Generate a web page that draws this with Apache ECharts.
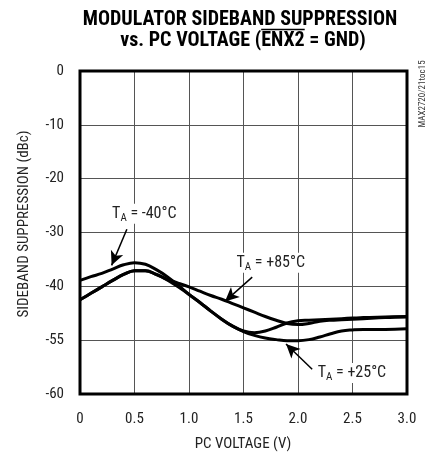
<!DOCTYPE html>
<html>
<head>
<meta charset="utf-8">
<script src="https://cdn.jsdelivr.net/npm/echarts@6/dist/echarts.min.js"></script>
<style>
  html, body { margin: 0; padding: 0; background: #fff; }
  #chart { width: 428px; height: 456px; }
</style>
</head>
<body>
<div id="chart"></div>
<script>
// PC voltage sample points (V)
const pcVoltage = [0, 0.1, 0.2, 0.3, 0.4, 0.5, 0.6, 0.7, 0.8, 0.9, 1.0, 1.1, 1.2, 1.3, 1.4,
  1.5, 1.6, 1.7, 1.8, 1.9, 2.0, 2.1, 2.2, 2.3, 2.4, 2.5, 2.6, 2.8, 3.0];

// Sideband suppression (dBc) at each temperature
const suppressionM40 = [-38.9, -38.2, -37.6, -36.8, -36.0, -35.6, -35.9, -36.9, -38.2, -39.8, -41.5,
  -43.0, -44.6, -46.1, -47.4, -48.3, -48.6, -48.3, -47.6, -46.8, -46.4, -46.3, -46.2, -46.1,
  -46.0, -45.9, -45.8, -45.7, -45.6];
const suppressionP25 = [-42.5, -41.3, -40.1, -38.9, -37.8, -37.1, -37.1, -37.8, -38.8, -40.1, -41.5,
  -43.0, -44.6, -46.1, -47.4, -48.4, -49.1, -49.6, -49.9, -50.1, -50.1, -49.9, -49.4, -48.8,
  -48.3, -48.1, -48.0, -48.0, -47.9];
const suppressionP85 = [-42.5, -41.3, -40.1, -38.9, -37.8, -37.1, -37.1, -37.8, -38.7, -39.4, -40.1,
  -40.9, -41.7, -42.4, -43.2, -44.0, -44.8, -45.6, -46.3, -46.9, -47.1, -46.9, -46.5, -46.3,
  -46.2, -46.1, -46.0, -45.8, -45.7];

// Axis ticks and their printed labels
const xTicks = [0, 0.5, 1.0, 1.5, 2.0, 2.5, 3.0];
const xTickLabels = ['0', '0.5', '1.0', '1.5', '2.0', '2.5', '3.0'];
const yTicks = [0, -10, -20, -30, -40, -50, -60];
const yTickLabels = ['0', '-10', '-20', '-30', '-40', '-55', '-60'];

// Curve annotations: label anchor and arrow (tail -> head), in data units
const annotations = [
  { temp: '-40°C', label: [0.59, -26.5], tail: [0.43, -29.4], head: [0.29, -36.1] },
  { temp: '+85°C', label: [1.75, -35.6], tail: [1.58, -38.3], head: [1.33, -42.8] },
  { temp: '+25°C', label: [2.495, -56.1], tail: [2.13, -55.4], head: [1.89, -50.7] }
];

const FONT = "'Liberation Sans Narrow', 'Arial Narrow', 'Roboto Condensed', 'Liberation Sans', sans-serif";
const TITLE_SIZE = 20;

const chart = echarts.init(document.getElementById('chart'), null, { renderer: 'canvas' });

function pairs(ys) { return pcVoltage.map((x, i) => [x, ys[i]]); }

function curve(name, ys) {
  return {
    name: name, type: 'line', data: pairs(ys), smooth: 0.4, showSymbol: false,
    lineStyle: { color: '#000', width: 3 }, z: 5, silent: true
  };
}

const arrowSeries = {
  type: 'line', data: [], silent: true,
  markLine: {
    silent: true, symbol: ['none', 'arrow'], symbolSize: [10, 14],
    label: { show: false },
    lineStyle: { color: '#000', width: 1.5, type: 'solid' },
    data: annotations.map(a => [{ coord: a.tail }, { coord: a.head }])
  }
};

const tickLabelStyle = { color: '#222', fontFamily: FONT, fontSize: 15 };

chart.setOption({
  animation: false,
  backgroundColor: '#fff',
  grid: { left: 80, right: 21, top: 71, bottom: 62, show: true, borderColor: '#000', borderWidth: 3, z: 10 },
  xAxis: {
    type: 'value', min: 0, max: 3, interval: 0.5,
    axisLine: { show: false }, axisTick: { show: false },
    splitLine: { show: true, lineStyle: { color: '#555', width: 1 } },
    axisLabel: Object.assign({ margin: 18 }, tickLabelStyle, {
      formatter: v => { const i = xTicks.findIndex(t => Math.abs(t - v) < 1e-6); return i >= 0 ? xTickLabels[i] : ''; }
    })
  },
  yAxis: {
    type: 'value', min: -60, max: 0, interval: 10,
    axisLine: { show: false }, axisTick: { show: false },
    splitLine: { show: true, lineStyle: { color: '#555', width: 1 } },
    axisLabel: Object.assign({ margin: 16 }, tickLabelStyle, {
      formatter: v => { const i = yTicks.findIndex(t => Math.abs(t - v) < 1e-6); return i >= 0 ? yTickLabels[i] : ''; }
    })
  },
  series: [
    curve('TA = -40°C', suppressionM40),
    curve('TA = +25°C', suppressionP25),
    curve('TA = +85°C', suppressionP85),
    arrowSeries
  ]
});

// Titles, axis names and curve labels
const g = [];

g.push({ type: 'text', x: 240, y: 20, style: {
  text: 'MODULATOR SIDEBAND SUPPRESSION', fontFamily: FONT, fontWeight: 'bold', fontSize: TITLE_SIZE,
  fill: '#000', align: 'center', verticalAlign: 'middle' } });

// Second title line; "ENX2" carries an overline (active-low pin)
const line2a = 'vs. PC VOLTAGE (', line2b = 'ENX2', line2c = ' = GND)';
const ctx = document.createElement('canvas').getContext('2d');
ctx.font = 'bold ' + TITLE_SIZE + 'px ' + FONT;
const wA = ctx.measureText(line2a).width, wB = ctx.measureText(line2b).width;
const wAll = ctx.measureText(line2a + line2b + line2c).width;
const line2Cx = 243, line2Cy = 41;
const line2Left = line2Cx - wAll / 2;
g.push({ type: 'text', x: line2Cx, y: line2Cy, style: {
  text: line2a + line2b + line2c, fontFamily: FONT, fontWeight: 'bold', fontSize: TITLE_SIZE,
  fill: '#000', align: 'center', verticalAlign: 'middle' } });
g.push({ type: 'line', shape: { x1: line2Left + wA, y1: 29.5, x2: line2Left + wA + wB, y2: 29.5 },
  style: { stroke: '#000', lineWidth: 1.5 } });

g.push({ type: 'text', x: 24, y: 224, rotation: Math.PI / 2, style: {
  text: 'SIDEBAND SUPPRESSION (dBc)', fontFamily: FONT, fontSize: 15, fill: '#222',
  align: 'center', verticalAlign: 'middle' } });
g.push({ type: 'text', x: 243, y: 444, style: {
  text: 'PC VOLTAGE (V)', fontFamily: FONT, fontSize: 15, fill: '#222',
  align: 'center', verticalAlign: 'middle' } });
g.push({ type: 'text', x: 423, y: 94, rotation: Math.PI / 2, style: {
  text: 'MAX2720/21toc15', fontFamily: FONT, fontSize: 9, fill: '#333',
  align: 'center', verticalAlign: 'middle' } });

annotations.forEach(a => {
  const p = chart.convertToPixel({ gridIndex: 0 }, a.label);
  g.push({ type: 'text', x: p[0], y: p[1], z: 20, style: {
    text: 'T{s|A} = ' + a.temp,
    rich: { s: { fontFamily: FONT, fontSize: 11, fill: '#222', padding: [9, 0, 0, 0] } },
    fontFamily: FONT, fontSize: 16, fill: '#222', align: 'center', verticalAlign: 'middle',
    backgroundColor: '#fff' } });
});

chart.setOption({ graphic: g });
</script>
</body>
</html>
